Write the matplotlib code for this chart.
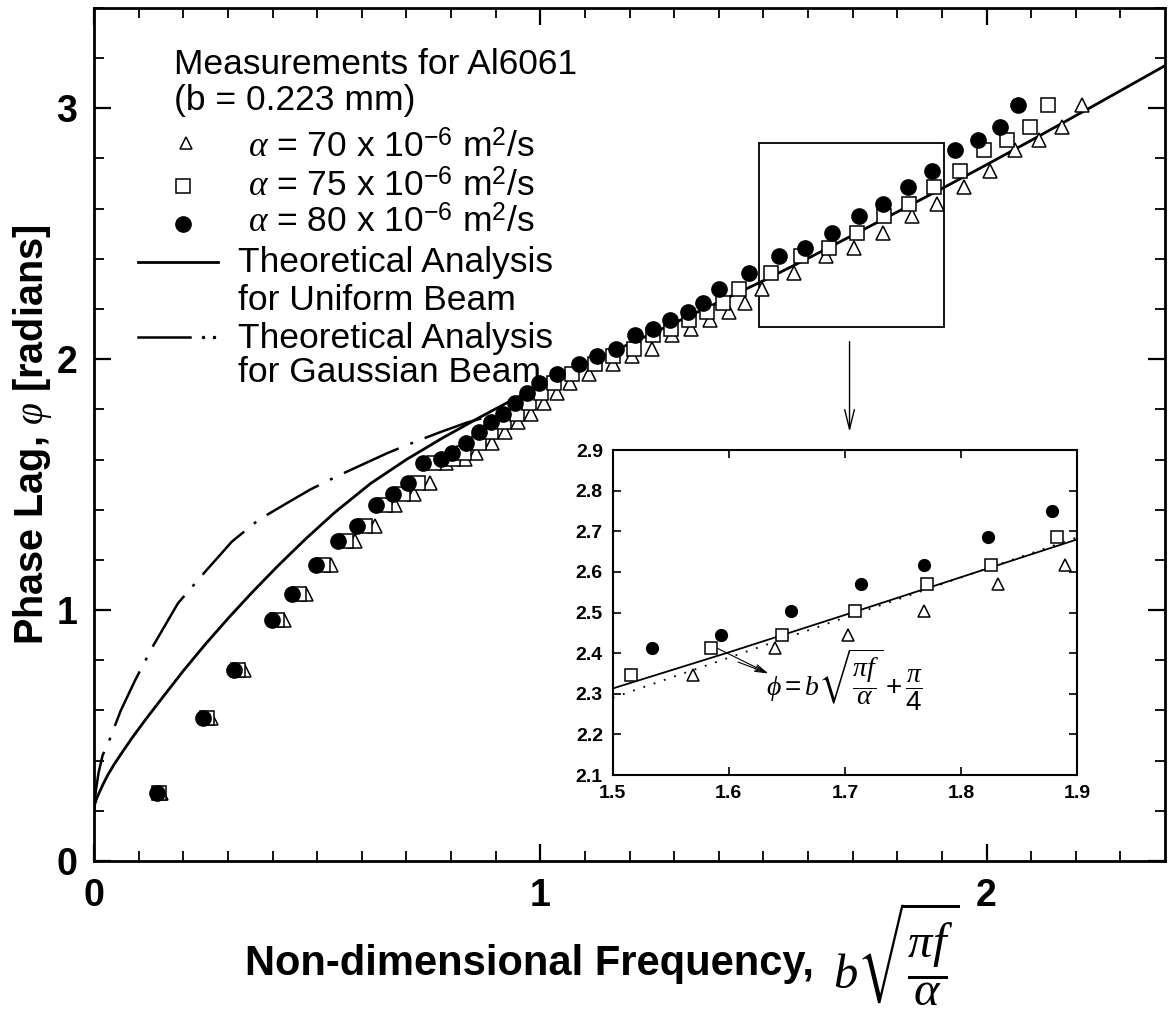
import matplotlib
matplotlib.use("Agg")
import matplotlib.pyplot as plt
from matplotlib.patches import Rectangle

plt.rcParams['font.family'] = ['Liberation Sans', 'DejaVu Sans']
plt.rcParams['mathtext.fontset'] = 'custom'
plt.rcParams['mathtext.rm'] = 'Liberation Sans'
plt.rcParams['mathtext.it'] = 'Liberation Serif:italic'
plt.rcParams['mathtext.bf'] = 'Liberation Sans:bold'
plt.rcParams['mathtext.fallback'] = 'stix'

# measured phase lag, same readings for all three alphas (x shifts with alpha)
phase = [0.270, 0.570, 0.760, 0.962, 1.065, 1.178, 1.275, 1.337, 1.417, 1.461,
         1.508, 1.588, 1.604, 1.628, 1.667, 1.710, 1.750, 1.780, 1.827, 1.864,
         1.907, 1.942, 1.980, 2.013, 2.040, 2.097, 2.120, 2.155, 2.190, 2.225,
         2.280, 2.345, 2.412, 2.445, 2.503, 2.569, 2.617, 2.687, 2.751, 2.835,
         2.875, 2.925, 3.015]

freq_a80 = [0.140, 0.245, 0.313, 0.398, 0.444, 0.498, 0.547, 0.589, 0.631, 0.670,
            0.703, 0.737, 0.778, 0.802, 0.834, 0.862, 0.890, 0.917, 0.944, 0.970,
            0.998, 1.038, 1.087, 1.127, 1.170, 1.212, 1.252, 1.291, 1.330, 1.364,
            1.400, 1.468, 1.534, 1.593, 1.654, 1.714, 1.768, 1.823, 1.878, 1.930,
            1.980, 2.030, 2.070]

freq_a75 = [0.145, 0.253, 0.323, 0.411, 0.459, 0.514, 0.565, 0.608, 0.652, 0.692,
            0.726, 0.761, 0.804, 0.828, 0.862, 0.890, 0.919, 0.947, 0.975, 1.002,
            1.031, 1.072, 1.123, 1.164, 1.209, 1.252, 1.293, 1.334, 1.374, 1.409,
            1.446, 1.516, 1.585, 1.646, 1.709, 1.771, 1.826, 1.883, 1.940, 1.994,
            2.045, 2.097, 2.138]

freq_a70 = [0.150, 0.262, 0.335, 0.426, 0.475, 0.532, 0.585, 0.630, 0.675, 0.716,
            0.752, 0.788, 0.832, 0.857, 0.892, 0.922, 0.951, 0.980, 1.009, 1.037,
            1.067, 1.110, 1.162, 1.205, 1.251, 1.296, 1.338, 1.380, 1.422, 1.458,
            1.497, 1.569, 1.640, 1.703, 1.768, 1.832, 1.890, 1.949, 2.008, 2.063,
            2.117, 2.170, 2.213]

# theoretical curves
uni_x = [0.0, 0.002, 0.006, 0.011, 0.02, 0.03, 0.045, 0.06, 0.085, 0.116, 0.155,
         0.201, 0.25, 0.302, 0.355, 0.413, 0.475, 0.54, 0.62, 0.70, 0.78, 0.864,
         0.94, 1.013, 1.09, 1.162, 1.24, 1.311, 1.4, 1.5, 1.6, 1.7, 1.8, 1.9,
         2.0, 2.1, 2.25, 2.4]
uni_y = [0.21, 0.228, 0.25, 0.27, 0.305, 0.34, 0.385, 0.425, 0.49, 0.565, 0.655,
         0.76, 0.865, 0.97, 1.072, 1.178, 1.285, 1.39, 1.505, 1.60, 1.685, 1.768,
         1.84, 1.905, 1.97, 2.03, 2.094, 2.153, 2.228, 2.313, 2.402, 2.494, 2.587, 2.68,
         2.775, 2.872, 3.02, 3.17]

gau_x = [0.0, 0.004, 0.010, 0.019, 0.034, 0.060, 0.092, 0.130, 0.188, 0.250, 0.309,
         0.369, 0.430, 0.484, 0.544, 0.600, 0.659, 0.724, 0.780, 0.835, 0.870]
gau_y = [0.20, 0.28, 0.35, 0.42, 0.48, 0.60, 0.72, 0.85, 1.027, 1.155, 1.273,
         1.36, 1.424, 1.48, 1.533, 1.579, 1.627, 1.674, 1.712, 1.747, 1.765]

# asymptote shown dotted in the inset
asym_x = [1.5, 1.9]
asym_y = [2.29, 2.685]

fig = plt.figure(figsize=(11.71, 10.31), dpi=100)
ax = fig.add_axes([0.0803, 0.1649, 0.9146, 0.8274])

ax.plot(uni_x, uni_y, color='black', lw=2.0, zorder=2)
ax.plot(gau_x, gau_y, color='black', lw=1.8, ls=(0, (24, 5, 1.2, 5)), zorder=2)
ax.plot(freq_a80, phase, 'o', ms=11, mfc='black', mec='black', zorder=5)
ax.plot(freq_a75, phase, 's', ms=9.5, mfc='white', mec='black', mew=1.1, zorder=4)
ax.plot(freq_a70, phase, '^', ms=10.5, mfc='white', mec='black', mew=1.1, zorder=3)

ax.set_xlim(0, 2.4)
ax.set_ylim(0, 3.4)
ax.set_xticks([0, 1, 2])
ax.set_yticks([0, 1, 2, 3])
ax.set_xticks([i / 10 for i in range(0, 24)], minor=True)
ax.set_yticks([i / 5 for i in range(0, 18)], minor=True)
ax.tick_params(which='both', direction='in', top=True, right=True)
ax.tick_params(which='major', length=12, width=1.6, pad=12, labelsize=27)
ax.tick_params(which='minor', length=7, width=1.3)
for lab in ax.get_xticklabels() + ax.get_yticklabels():
    lab.set_fontweight('bold')
for sp in ax.spines.values():
    sp.set_linewidth(2)

ax.set_ylabel(r'Phase Lag, $\varphi$ [radians]', fontsize=28.5, fontweight='bold', labelpad=2)

fig.text(0.6951, 0.0543, 'Non-dimensional Frequency,', ha='right', va='baseline',
         fontsize=30, fontweight='bold')
fig.text(0.7113, 0.0407, r'$b\sqrt{\dfrac{\pi f}{\alpha}}$', ha='left', va='baseline',
         fontsize=35)

# zoom box and arrow
ax.add_patch(Rectangle((1.49, 2.13), 0.415, 0.73, fill=False, lw=1.3, zorder=1))
ax.annotate('', xy=(1.693, 1.71), xytext=(1.693, 2.07),
            arrowprops=dict(arrowstyle='->,head_length=1.4,head_width=0.35',
                            lw=1.0, color='black', shrinkA=0, shrinkB=0))

# legend drawn by hand
tr = ax.transAxes
fs = 25.5
ax.text(0.0747, 0.8804, 'Measurements for Al6061\n(b = 0.223 mm)', transform=tr,
        fontsize=fs, va='baseline', linespacing=1.1)
ax.plot([0.0859], [0.8417], '^', ms=9, mfc='white', mec='black', mew=1.1, transform=tr)
ax.plot([0.0831], [0.7913], 's', ms=9.5, mfc='white', mec='black', mew=1.1, transform=tr)
ax.plot([0.0831], [0.7468], 'o', ms=11, color='black', transform=tr)
ax.text(0.1438, 0.8242, r'$\alpha$ = 70 x 10$^{-6}$ m$^{2}$/s', transform=tr, fontsize=fs, va='baseline')
ax.text(0.1438, 0.7784, r'$\alpha$ = 75 x 10$^{-6}$ m$^{2}$/s', transform=tr, fontsize=fs, va='baseline')
ax.text(0.1438, 0.7362, r'$\alpha$ = 80 x 10$^{-6}$ m$^{2}$/s', transform=tr, fontsize=fs, va='baseline')
ax.plot([0.041, 0.116], [0.7022, 0.7022], color='black', lw=2.0, transform=tr)
ax.text(0.1345, 0.6460, 'Theoretical Analysis\nfor Uniform Beam', transform=tr,
        fontsize=fs, va='baseline', linespacing=1.18)
ax.plot([0.041, 0.090], [0.6143, 0.6143], color='black', lw=1.8, transform=tr)
ax.plot([0.102, 0.112], [0.6143, 0.6143], '.', ms=3, color='black', transform=tr)
ax.text(0.1345, 0.5615, 'Theoretical Analysis\nfor Gaussian Beam', transform=tr,
        fontsize=fs, va='baseline', linespacing=1.05)

# inset (same data, only points inside its range)
ins = fig.add_axes([0.5232, 0.2483, 0.3966, 0.3152])
ins.set_facecolor('white')


def in_range(xs, ys):
    pts = [(a, b) for a, b in zip(xs, ys) if 1.5 <= a <= 1.9]
    return [p[0] for p in pts], [p[1] for p in pts]


ins.plot(uni_x, uni_y, color='black', lw=1.3)
ins.plot(asym_x, asym_y, color='black', lw=1.3, ls=(0, (1, 5)))
ins.plot(*in_range(freq_a80, phase), 'o', ms=8.5, color='black', zorder=5)
ins.plot(*in_range(freq_a75, phase), 's', ms=8, mfc='white', mec='black', mew=1.1, zorder=4)
ins.plot(*in_range(freq_a70, phase), '^', ms=8, mfc='white', mec='black', mew=1.1, zorder=3)
ins.set_xlim(1.5, 1.9)
ins.set_ylim(2.1, 2.9)
ins.set_xticks([1.5, 1.6, 1.7, 1.8, 1.9])
ins.set_yticks([2.1, 2.2, 2.3, 2.4, 2.5, 2.6, 2.7, 2.8, 2.9])
ins.set_xticklabels(['1.5', '1.6', '1.7', '1.8', '1.9'])
ins.set_yticklabels(['2.1', '2.2', '2.3', '2.4', '2.5', '2.6', '2.7', '2.8', '2.9'])
ins.tick_params(direction='in', top=True, right=True, length=6, width=1.2,
                labelsize=14, pad=7)
for lab in ins.get_xticklabels() + ins.get_yticklabels():
    lab.set_fontweight('bold')
for sp in ins.spines.values():
    sp.set_linewidth(1.5)

ins.text(1.632, 2.335, r'$\phi = b\sqrt{\dfrac{\pi f}{\alpha}}+\dfrac{\pi}{4}$',
         fontsize=20, va='center', ha='left')
arrow_kw = dict(arrowstyle='->,head_length=0.8,head_width=0.2', lw=0.8, color='black',
                shrinkA=0, shrinkB=0)
ins.annotate('', xy=(1.634, 2.35), xytext=(1.588, 2.415), arrowprops=arrow_kw)
ins.annotate('', xy=(1.634, 2.35), xytext=(1.608, 2.378), arrowprops=arrow_kw)

fig.savefig('out.png', dpi=100)
